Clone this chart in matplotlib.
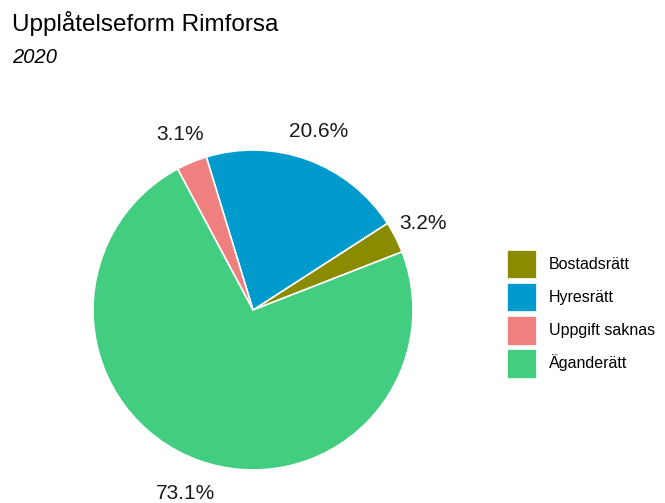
import numpy as np
import matplotlib.pyplot as plt
from matplotlib.patches import Patch

plt.rcParams['font.family'] = ['Liberation Sans', 'DejaVu Sans']

# data
kategorier = ['Bostadsrätt', 'Hyresrätt', 'Uppgift saknas', 'Äganderätt']
andel = [3.2, 20.6, 3.1, 73.1]
farger = ['#8b8b00', '#009acd', '#f08080', '#43cd80']

fig = plt.figure(figsize=(6.65, 5.03), dpi=100)

# pie axes: centre (253, 310) px, radius 160 px
lim = 1.3
R = 160
W, H = 665, 503
side = 2 * lim * R
ax = fig.add_axes([(253 - side / 2) / W, (H - 310 - side / 2) / H, side / W, side / H])
start = 21.3
wedges, _ = ax.pie(andel, colors=farger, startangle=start, counterclock=True,
                   wedgeprops=dict(edgecolor='white', linewidth=1.2))
ax.set_xlim(-lim, lim)
ax.set_ylim(-lim, lim)
ax.set_aspect('equal')
ax.axis('off')

# procentetiketter utanför tårtan
avst = [1.19, 1.19, 1.19, 1.22]
vinkel = start
for v, r in zip(andel, avst):
    mitt = np.deg2rad(vinkel + v * 3.6 / 2)
    ax.text(r * np.cos(mitt), r * np.sin(mitt), f'{v:.1f}%', ha='center', va='center',
            fontsize=15, color='#1a1a1a', clip_on=False)
    vinkel += v * 3.6

fig.text(12 / W, 1 - 11 / H, 'Upplåtelseform Rimforsa', fontsize=17.5, va='top', ha='left')
fig.text(12 / W, 1 - 48 / H, '2020', fontsize=14.5, style='italic', va='top', ha='left')

handles = [Patch(facecolor=c, edgecolor='white', linewidth=0.5) for c in farger]
fig.legend(handles, kategorier, loc='upper left', bbox_to_anchor=(507 / W, 1 - 250 / H),
           frameon=False, fontsize=11.5, handlelength=1.8, handleheight=2.35,
           labelspacing=0.3, handletextpad=0.8, borderpad=0, borderaxespad=0)

fig.savefig('out.png', dpi=100, facecolor='white')
